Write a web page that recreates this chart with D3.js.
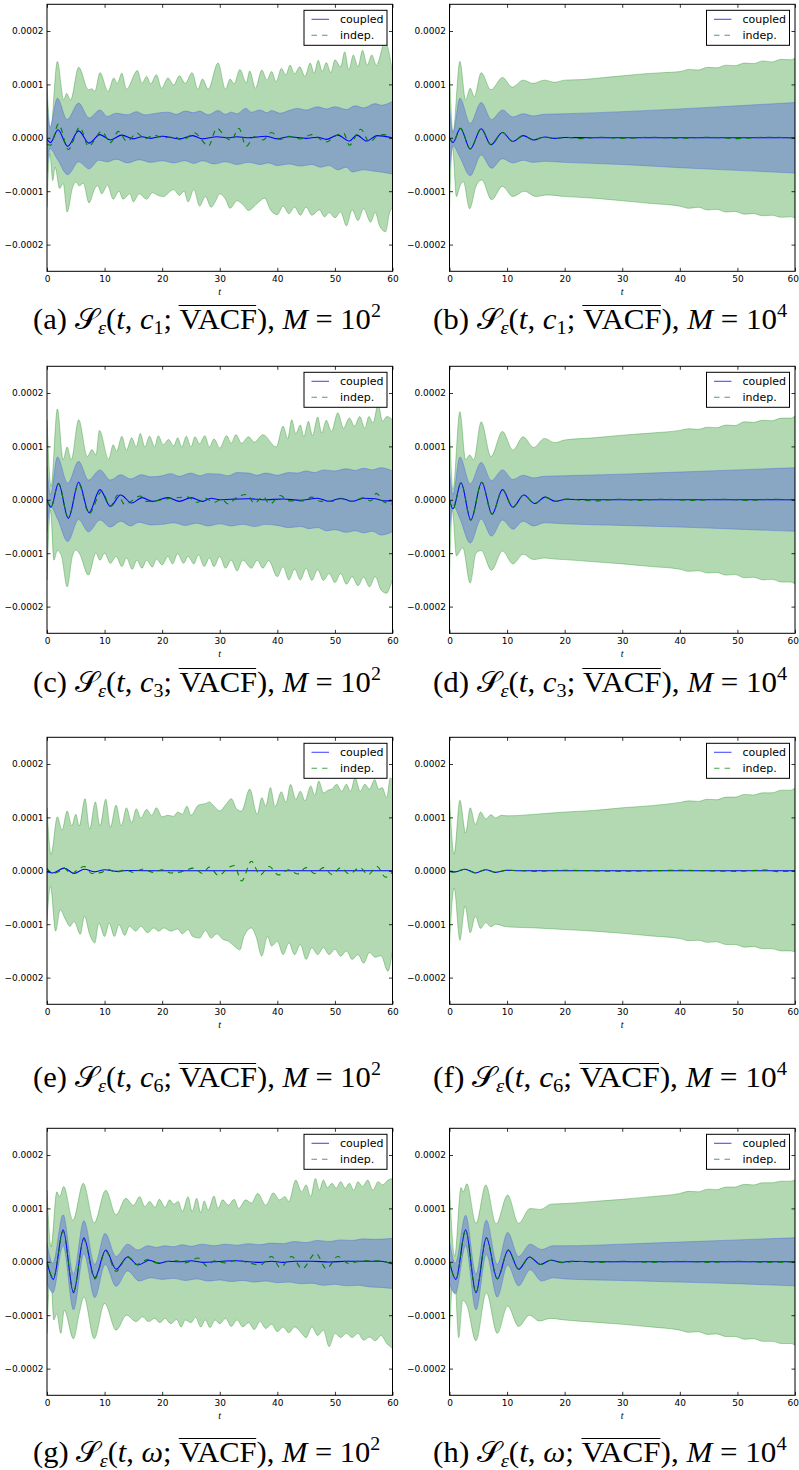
<!DOCTYPE html>
<html><head><meta charset="utf-8">
<script src="https://cdn.jsdelivr.net/npm/d3@7"></script>
<style>html,body{margin:0;padding:0;background:#fff;} svg{display:block;}</style>
</head><body>
<svg id="chart" width="799" height="1470"></svg>
<script>
// values are in units of 1e-5; each series is a list of [t, value] knots
const UNIT = 1e-5;
const tTicks = [0, 10, 20, 30, 40, 50, 60];
const yTicks = [-0.0002, -0.0001, 0, 0.0001, 0.0002];
const yTickLabels = ["\u22120.0002", "\u22120.0001", "0.0000", "0.0001", "0.0002"];
const seriesNames = ["coupled", "indep."];
const panelLetters = ["a", "b", "c", "d", "e", "f", "g", "h"];
const panelParams = ["c1", "c1", "c3", "c3", "c6", "c6", "\u03c9", "\u03c9"];
const panelExps = ["2", "4", "2", "4", "2", "4", "2", "4"];

// ---- (a) c1, M=10^2
const a_gUp = [[0,10],[0.6,1.5],[1.8,14.3],[2.9,7.1],[3.4,8.3],[4.1,7.1],[5.5,13.2],[7.2,9.0],[7.8,9.2],[8.3,8.7],[9.2,12.2],[10.6,8.7],[11.6,11.2],[12.2,10.2],[13,12.1],[13.8,9.1],[15.7,12.6],[16.5,10.2],[17.3,11.5],[18,10.1],[19,11.8],[19.9,9.3],[21,11.2],[22,9.9],[23,11.6],[24,10.2],[25.2,12.2],[26.2,9.1],[27,11.0],[28,9.1],[29.7,14.0],[31,9.1],[31.8,11.0],[32.5,10.1],[33.5,12.8],[34.6,10.3],[35.2,12.5],[36.2,9.3],[37.3,12.7],[38.2,10.8],[39,12.4],[39.8,10.5],[40.7,13.0],[41.5,11.8],[42.2,13.6],[43,12.0],[43.9,13.3],[44.8,11.5],[45.7,14.0],[46.4,12.1],[47.1,14.5],[47.8,12.4],[48.5,14.1],[49.3,12.2],[50,14.6],[51,13.3],[51.7,16.1],[52.4,12.7],[53.2,15.5],[54,13.3],[54.8,16.4],[55.6,13.6],[56.4,15.5],[57.2,13.6],[58.7,18.0],[60,12.4]];
const a_gLo = [[0,-13],[0.5,-3],[1.0,-8],[1.4,-5.5],[2.2,-9.5],[2.8,-8.5],[3.5,-13.9],[4.4,-9.5],[5,-8.3],[5.6,-9],[6.3,-8.5],[7.3,-12.2],[8.3,-9.5],[8.8,-9],[9.5,-10.5],[10.5,-8.9],[11.5,-11.5],[12.5,-10],[13.2,-11.5],[14.4,-10.5],[15,-12],[16,-10.5],[17.3,-11.5],[18.3,-10.3],[19.3,-10.8],[20.3,-11],[21.2,-10.2],[22,-9.7],[23,-10.8],[23.8,-10],[24.5,-12],[25.5,-9.7],[26.5,-12.8],[27.5,-11],[28.5,-13],[29.3,-11.8],[30,-10.5],[31,-11.5],[31.8,-13.2],[33,-11.8],[34,-12.5],[35,-13.6],[36.5,-12.3],[37.8,-11.3],[38.8,-13.5],[40,-14.4],[41,-12.8],[42,-14.2],[43,-13],[44,-14.5],[45,-13],[46,-14.5],[47.3,-13.5],[48.2,-14.8],[49,-14],[50,-15],[51,-13.9],[52,-16.5],[53,-13.5],[54,-15.5],[55,-13.3],[56.2,-15.8],[57,-14],[57.8,-16.6],[58.8,-17.6],[59.5,-14],[60,-13]];
const a_bUp = [[0,7],[0.5,2],[1.8,7.4],[3.5,3.4],[5.5,6.5],[7.3,3.7],[9.2,5.2],[10.5,4.0],[12,4.6],[14,4.3],[15.5,4.9],[17,4.3],[19,4.6],[21,4.8],[22.5,4.4],[24,5.0],[25.5,4.7],[26.5,5.0],[28,4.3],[29.7,5.1],[31,4.4],[32,4.8],[33,4.5],[34.5,5.5],[35.5,4.8],[37,5.2],[38.2,4.7],[39,5.1],[40.5,4.6],[42,5.1],[43.5,5.5],[45,5.2],[47,5.8],[48.5,5.4],[50,5.8],[52,5.3],[53.5,6.0],[55,5.6],[57,6.4],[58,6.1],[60,6.8]];
const a_bLo = [[0,-6.5],[0.5,-2],[1.8,-4.0],[3.6,-6.9],[5.5,-4.5],[7.3,-5.8],[9,-4.2],[10.5,-4.5],[12,-4.0],[14,-4.7],[16,-4.1],[18,-4.6],[20,-4.3],[22,-4.7],[24,-4.3],[25.5,-4.8],[27,-4.3],[29,-4.9],[31,-4.5],[33,-5.0],[35,-4.6],[37,-5.0],[38.5,-4.7],[40,-5.2],[42,-4.9],[44,-5.3],[46,-5.0],[47.5,-5.5],[49,-5.2],[50.5,-6.0],[52,-5.5],[53,-6.4],[55,-6.0],[56.5,-6.2],[58,-6.4],[60,-6.8]];
const a_coupled = [[0,-0.3],[0.6,-0.9],[1.9,1.5],[3.6,-1.6],[5.5,1.3],[7.3,-1.0],[9.2,0.6],[11,-0.4],[13,0.5],[15,-0.2],[16.5,0.2],[18,-0.1],[20,0.3],[23,-0.2],[25.3,0.4],[27,-0.2],[29.5,0.2],[31.5,0],[33,0.2],[35,0],[38,0.3],[40,-0.2],[42,0.2],[45,-0.1],[47,0.1],[48.5,-0.3],[50.5,0.5],[52.5,-0.6],[53.8,0.5],[55.5,-0.6],[57.3,0.4],[60,0]];
const a_indep = [[0,-1.2],[0.6,-1.4],[2.0,2.6],[3.7,-2.2],[5.7,2.0],[7.2,-1.6],[9.5,1.2],[11,-0.9],[12.4,1.2],[13.9,-0.7],[15.6,0.9],[17,-0.2],[18.5,0.5],[20.3,0],[22,0.2],[23.5,-0.4],[25.7,0.9],[27,-0.6],[28,-1.6],[29.5,1.8],[31,0.1],[32,-0.5],[33.3,1.8],[34.6,-1.6],[36,0.2],[37.5,-0.4],[39,1.0],[40.5,-0.3],[42,0.3],[44,-0.2],[46,0.6],[48.5,-0.8],[50,0.3],[51.5,0.9],[52.5,-1.4],[54.5,1.6],[56,-0.8],[57.3,0.3],[58.5,0.6],[60,-0.2]];

// ---- (b) c1, M=10^4
const b_gUp = [[0,13.3],[0.6,1],[1.8,14.3],[2.8,7.1],[3.6,9.3],[4.3,7.7],[5.5,12.2],[7.2,9.0],[9.2,11.3],[10.9,9.5],[12.8,10.8],[14.5,10.2],[16.5,10.8],[18.2,10.4],[20,10.8],[23,10.9],[26,11.2],[30,11.6],[34,12.0],[37,12.2],[40,12.4],[41.6,12.8],[43.2,12.7],[44.8,13.2],[46.4,13.1],[48,13.6],[49.6,13.5],[51.2,14.0],[52.8,13.9],[54.4,14.4],[56,14.2],[57.6,14.7],[59.2,14.6],[60,14.9]];
const b_gLo = [[0,-13.8],[0.5,-1.6],[1.2,-11],[1.8,-9.1],[2.4,-8.2],[3.5,-13.3],[4.6,-9.1],[5.6,-7.9],[7.3,-11.6],[9.2,-9.1],[11,-11],[13,-10],[15,-11],[17,-10.7],[20,-11],[25,-11.3],[30,-11.8],[35,-12.3],[40,-12.8],[41.6,-13.2],[43.2,-13.0],[44.8,-13.5],[46.4,-13.4],[48,-13.9],[49.6,-13.8],[51.2,-14.3],[52.8,-14.2],[54.4,-14.6],[56,-14.5],[57.6,-14.9],[59.2,-14.8],[60,-15]];
const b_bUp = [[0,5.9],[0.6,1.0],[1.8,7.4],[3.6,2.7],[5.5,6.6],[7.3,3.4],[9.2,5.2],[11,3.9],[12.8,4.5],[14.5,4.1],[16.5,4.4],[20,4.5],[30,4.9],[40,5.4],[50,6.0],[60,6.6]];
const b_bLo = [[0,-6.2],[0.6,-1.5],[1.8,-3.6],[3.6,-7.1],[5.5,-3.2],[7.3,-5.7],[9.2,-3.9],[11,-4.7],[12.8,-4.2],[14.5,-4.6],[16.5,-4.4],[20,-4.6],[30,-5.0],[40,-5.6],[50,-6.1],[60,-6.6]];
const b_coupled = [[0,0],[0.6,-0.9],[1.9,1.8],[3.6,-2.1],[5.5,1.7],[7.2,-1.3],[9.2,1.0],[11,-0.7],[12.8,0.4],[14.6,-0.4],[16.5,0.15],[18.3,-0.1],[20,0.05],[25,0],[60,0]];
const b_indep = [[0,0],[0.6,-0.9],[1.9,1.8],[3.6,-2.1],[5.5,1.7],[7.2,-1.3],[9.2,1.0],[11,-0.7],[12.8,0.4],[14.6,-0.4],[16.5,0.2],[18.3,-0.15],[20,0.1],[23,-0.15],[26,0.1],[30,-0.1],[35,0.1],[40,-0.1],[45,0.1],[50,-0.15],[55,0.1],[60,0]];

// ---- (c) c3, M=10^2
const c_gUp = [[0,15],[0.7,2.5],[1.8,17],[2.8,7.5],[3.5,9.9],[4.2,7.5],[5.5,15],[7,8.1],[7.8,9.4],[8.5,8.4],[9.1,13],[10.7,7.6],[11.5,10.3],[12.1,9.1],[13,11.9],[13.8,9.3],[14.7,11.6],[15.5,9.9],[16.2,12.4],[17,9.9],[17.8,11.9],[18.7,9.9],[19.3,12],[20.2,10.3],[21.1,11.3],[22,10.1],[22.7,11.6],[23.4,9.9],[24.2,11.9],[25,9.9],[25.7,11.8],[26.5,10.5],[27.4,12],[28.2,9.9],[29,11.4],[30,9.7],[31.2,12],[32,10.6],[32.8,12.2],[33.8,10.6],[35,11.8],[36,10.8],[37.5,12.2],[39.8,9.9],[41,13.8],[41.8,11.4],[42.5,15],[43.2,12.4],[44,14],[44.6,11.8],[45.4,14.7],[46.1,12],[47,15.5],[47.7,12.5],[48.5,14.9],[49.4,12.8],[50.5,16.3],[51.5,13.4],[52.5,15.3],[53.4,13.8],[54.3,15.6],[55.2,13.4],[55.9,15.6],[56.6,14.4],[57.5,17.8],[58.3,14.7],[59,15.6],[60,15]];
const c_gLo = [[0,-15],[0.6,-1.9],[1.2,-11.3],[1.8,-9.5],[2.5,-10.5],[3.5,-16.3],[4.4,-10.6],[5,-9.4],[5.6,-10],[7.2,-14.1],[8.5,-10],[9.2,-11.3],[10,-10],[11,-11.9],[12,-10.6],[13,-12.5],[13.8,-10.9],[14.8,-13],[15.6,-11.3],[16.5,-12.8],[17.3,-11.3],[18.3,-12.6],[19,-11.1],[20,-12.2],[21,-10.6],[21.8,-12],[22.7,-10.1],[23.7,-11.9],[24.5,-10.6],[25.5,-12],[26.3,-10.3],[27.3,-12.5],[28.2,-10.9],[29,-12.5],[30,-10.6],[31,-12.8],[32,-11.3],[33,-13.3],[34,-11.3],[35.5,-12.8],[36.5,-11.3],[37.5,-12.8],[38.5,-11.4],[40,-14.4],[41,-12.5],[42,-15],[43,-13],[44,-15],[45,-12.8],[46,-15.1],[47,-13.1],[48,-15.1],[49,-13.8],[50,-15.5],[51,-13.8],[52,-15.8],[53,-14.4],[54,-16.1],[55,-14.5],[56,-16.3],[57,-14.4],[58,-16.9],[59,-17.5],[59.5,-16.5],[60,-15]];
const c_bUp = [[0,6.2],[0.6,1.0],[1.8,8.0],[3.6,3.1],[5.5,7.2],[7.2,3.7],[9.2,5.6],[11,3.7],[12.8,4.7],[14.5,3.9],[16.4,4.7],[18,4.3],[20,4.5],[21.5,4.9],[23,4.4],[25,5.0],[26.5,4.5],[28,4.9],[30,4.8],[31.5,4.5],[33,5.1],[35,5.0],[36.5,4.6],[38,5.0],[40,4.6],[42,5.1],[43.5,5.0],[45,5.4],[46.5,5.1],[48,5.6],[50,5.4],[52,5.8],[53.5,5.5],[55,5.9],[56.5,5.6],[58,6.0],[60,5.4]];
const c_bLo = [[0,-6],[0.6,-1.2],[1.8,-3.5],[3.6,-7.8],[5.5,-3.7],[7.2,-6.0],[9.2,-3.8],[11,-5.1],[12.8,-4.0],[14.5,-4.9],[16,-4.2],[18,-4.7],[20,-4.6],[22,-4.3],[24,-4.8],[26,-4.4],[28,-4.9],[30,-4.5],[32,-4.9],[34,-4.6],[36,-5.0],[38,-4.6],[40,-4.8],[42,-5.2],[44,-5.0],[45.5,-5.4],[47,-5.2],[48.5,-5.8],[50,-5.6],[52,-6.1],[53.5,-5.8],[55,-6.2],[56.5,-5.9],[58,-6.6],[60,-6.0]];
const c_coupled = [[0,0],[0.7,-1.4],[2,3.1],[3.7,-3.5],[5.5,3.3],[7.3,-2.4],[9.2,1.9],[11,-1.2],[12.8,0.9],[14.7,-0.6],[16.5,0.4],[18.3,-0.3],[21,0.4],[23,-0.3],[25,0.4],[27,-0.3],[28.5,0.3],[30,0],[32,0.1],[35,0.2],[38,0],[41,0.15],[44,-0.1],[47,0.3],[49,-0.3],[51,0.3],[53,-0.3],[55,0.3],[57,0.2],[58.5,-0.2],[60,-0.2]];
const c_indep = [[0,0],[0.7,-1.3],[2,3.0],[3.7,-3.3],[5.5,3.0],[7.3,-2.6],[9.5,1.6],[11,-1.2],[12.3,0.9],[13.5,-0.9],[16.2,0.7],[17.3,-0.3],[19,-0.2],[21,0.2],[24.5,0.5],[26,-0.5],[27.5,0.3],[29,-0.5],[30.3,0.1],[31.5,-0.8],[33,0.5],[34.8,1.0],[36,-0.7],[37.5,0.6],[38.7,-0.8],[40.5,0.8],[42,-0.2],[44.5,-0.2],[46,0.5],[47.5,-0.3],[49.5,-0.3],[51,0.2],[53,-0.3],[55,0.4],[56.2,-0.2],[57.2,1.2],[58.5,-0.4],[60,-0.8]];

// ---- (d) c3, M=10^4
const d_gUp = [[0,14.6],[0.6,1.9],[1.8,16.5],[2.8,7.5],[3.5,8.4],[4.2,7.5],[5.5,14.6],[7.2,8.1],[9.2,12.8],[11,9.3],[12.8,11.8],[14.6,9.8],[16.5,11.5],[18.3,10.7],[20,11.2],[25,11.6],[30,12.1],[35,12.5],[40,13],[41.6,13.3],[43.2,13.2],[44.8,13.6],[46.4,13.5],[48,14.0],[49.6,13.9],[51.2,14.6],[52.8,14.5],[54.4,14.9],[56,14.8],[57.6,15.3],[59.2,15.3],[60,15.7]];
const d_gLo = [[0,-14.4],[0.5,-2],[1.2,-10.5],[2.3,-9],[3.6,-15.6],[4.6,-10],[5.5,-9.5],[7.3,-13.2],[9.2,-9.6],[11,-12],[12.8,-10.2],[14.6,-11.2],[16.5,-10.9],[18.3,-11.1],[20,-11.2],[25,-11.6],[30,-12],[35,-12.5],[40,-13],[41.6,-13.4],[43.2,-13.3],[44.8,-13.7],[46.4,-13.6],[48,-14.1],[49.6,-14.0],[51.2,-14.6],[52.8,-14.5],[54.4,-15.0],[56,-14.9],[57.6,-15.4],[59.2,-15.4],[60,-15.8]];
const d_bUp = [[0,5.5],[0.6,1.0],[1.8,8.0],[3.6,3.0],[5.5,7.0],[7.3,3.6],[9.2,5.6],[11,3.8],[12.8,4.6],[14.6,4.1],[16.5,4.4],[20,4.5],[30,4.8],[40,5.2],[50,5.6],[60,6.0]];
const d_bLo = [[0,-5.8],[0.6,-1],[1.8,-3.5],[3.6,-8.1],[5.5,-3.6],[7.3,-6.8],[9.2,-3.8],[11,-5.5],[12.8,-4.0],[14.6,-4.9],[16.5,-4.3],[20,-4.5],[30,-4.8],[40,-5.1],[50,-5.5],[60,-5.9]];
const d_coupled = [[0,0],[0.6,-1.7],[2,3.2],[3.7,-3.8],[5.6,3.3],[7.4,-2.7],[9.2,1.9],[11,-1.4],[12.9,0.9],[14.8,-0.7],[16.6,0.5],[18.4,-0.3],[20.3,0.1],[25,0],[60,0]];
const d_indep = [[0,0],[0.6,-1.7],[2,3.2],[3.7,-3.8],[5.6,3.3],[7.4,-2.7],[9.2,1.9],[11,-1.4],[12.9,0.9],[14.8,-0.7],[16.6,0.5],[18.4,-0.3],[20.3,0.15],[23,-0.1],[26,-0.2],[29,0.1],[33,-0.1],[37,0.1],[42,-0.1],[47,0.1],[52,-0.1],[56,0.1],[60,0]];

// ---- (e) c6, M=10^2
const e_gUp = [[0,11.8],[0.7,3.1],[1.8,10.1],[2.6,7.6],[3.5,11.2],[4.3,8.4],[5,10.6],[5.6,8.4],[6.6,13.5],[7.4,7.8],[8.4,12.9],[9.2,8.4],[10.2,13.4],[11,8.1],[12,12.3],[12.9,8.4],[13.8,11.8],[14.7,9],[15.5,11.6],[16.3,9.9],[17.3,11.5],[18.2,10.4],[19,11.8],[20,10.1],[21,10.4],[22,10.2],[22.7,11],[23.5,10.6],[24.3,12.1],[25,10.4],[26.3,12.3],[27.5,12.6],[28.2,12.9],[29,12.1],[30,11.2],[31,12.3],[32,13.5],[33,11.5],[33.8,11.2],[35.2,15.3],[36.5,10.6],[37.3,13.7],[38,12.1],[38.8,15.6],[39.6,12],[40.7,14.8],[41.5,12.8],[42.3,16.2],[43.2,13.4],[44,14.9],[44.8,13.1],[45.8,15.9],[46.5,14.1],[47.2,16.8],[48,14.6],[48.8,15.1],[49.5,15.3],[50.3,16.2],[51.2,14.9],[52,16.2],[52.7,14.9],[53.5,17.4],[54.4,14.9],[55.2,16.2],[56,15.3],[56.9,17.1],[57.6,15.3],[58.2,15.6],[59,13.7],[59.6,17.4],[60,17.1]];
const e_gLo = [[0,-9.4],[0.6,-2.9],[1.5,-11.3],[2.3,-7.3],[3.2,-9.1],[4,-10.4],[4.7,-9.5],[5.8,-11.9],[6.5,-8.5],[7.4,-11.9],[8.3,-13.5],[9,-9.8],[10,-12.3],[10.8,-9.8],[11.7,-12.3],[12.5,-10.1],[13.5,-12.1],[14.3,-10.4],[15.4,-11.3],[16.3,-10.4],[17.5,-11.6],[18.5,-10.7],[19.4,-11.3],[20.3,-10.7],[21.5,-11.3],[22.7,-10.9],[23.5,-11.8],[24.5,-11],[25.3,-12.3],[26.5,-12.6],[27.5,-11.2],[28.5,-12.6],[29.5,-11.8],[30.5,-12.8],[31.5,-13.2],[32.5,-14.1],[33.5,-14.8],[34.2,-12.3],[35.5,-10.7],[36.3,-12.3],[37.3,-16],[38.3,-12.3],[39,-14.1],[40,-13.2],[41,-15.7],[42,-13.5],[43,-15.7],[44,-13.8],[45,-16.6],[46,-14.4],[47,-15.7],[48,-14.4],[49,-15.7],[50,-14.7],[51,-16],[52,-15],[53,-16.6],[54,-15.7],[55,-17.3],[56,-15.3],[57,-16.2],[58,-15.9],[59.2,-18.8],[60,-15]];
const e_bUp = null;
const e_bLo = null;
const e_coupled = [[0,-0.2],[1,-0.4],[3,0.5],[4.7,-0.5],[6.5,0.3],[8.3,-0.2],[10,0.2],[12,-0.1],[14,0.05],[20,0],[60,0]];
const e_indep = [[0,0.5],[0.8,-0.5],[2,-0.2],[3,0.5],[4.2,-0.6],[5.2,0.1],[6.5,0.8],[7.8,-0.5],[9.5,-0.3],[10.5,0.3],[12,-0.3],[13.5,0.2],[15,-0.3],[16.5,0.3],[18.5,-0.3],[20,0.2],[21.5,-0.4],[23.3,-0.2],[25.5,0.5],[27,-0.5],[28.2,0.7],[29.8,-0.9],[31.5,0.6],[32.5,1.0],[33.8,-1.9],[35.5,1.8],[37,-0.8],[38.6,0.8],[40.2,-0.8],[42,0.2],[43.5,-0.6],[45,0.6],[46.5,-0.5],[48,0.6],[49.5,-0.7],[51,0.6],[52.5,-0.6],[54.3,0.6],[55.8,-0.7],[57.3,0.8],[58.8,-1.2],[60,-0.2]];

// ---- (f) c6, M=10^4
const f_gUp = [[0,14],[0.8,3.1],[1.8,13.2],[2.8,7.1],[3.6,11.8],[4.5,8.7],[5.4,11],[6.3,9.7],[7.2,10.5],[8,9.9],[9,10.4],[10,10.3],[15,10.6],[20,11],[25,11.3],[30,11.8],[35,12.2],[40,12.8],[41.6,13.1],[43.2,13.0],[44.8,13.4],[46.4,13.3],[48,13.8],[49.6,13.8],[51.2,14.3],[52.8,14.2],[54.4,14.6],[56,14.6],[57.6,15.1],[59.2,15.1],[60,15.5]];
const f_gLo = [[0,-14],[0.8,-3.2],[1.8,-13],[2.7,-6.6],[3.6,-11.6],[4.5,-8.5],[5.4,-10.8],[6.3,-9.7],[7.2,-10.5],[8,-10],[10,-10.5],[15,-10.7],[20,-11],[25,-11.3],[30,-11.7],[35,-12.2],[40,-12.7],[41.6,-13.1],[43.2,-13.0],[44.8,-13.4],[46.4,-13.3],[48,-13.8],[49.6,-13.8],[51.2,-14.3],[52.8,-14.2],[54.4,-14.6],[56,-14.6],[57.6,-15.0],[59.2,-15.0],[60,-15.2]];
const f_bUp = null;
const f_bLo = null;
const f_coupled = [[0,-0.1],[1,-0.2],[2.7,0.3],[4.5,-0.4],[6.3,0.2],[8,-0.3],[10,0.1],[12,0],[60,0]];
const f_indep = [[0,-0.1],[1,-0.2],[2.7,0.3],[4.5,-0.4],[6.3,0.2],[8,-0.3],[10,0.1],[15,-0.1],[20,0.1],[30,-0.1],[40,0.1],[50,-0.1],[55,0.15],[57,-0.15],[60,0]];

// ---- (g) omega, M=10^2
const g_gUp = [[0,13.4],[0.7,2.8],[1.7,13.1],[2.2,12.2],[2.9,14.1],[4.5,7.8],[6.3,14.7],[8.2,7.3],[10.2,13.4],[12,8.8],[13.7,11.9],[15,10.6],[16.1,12.2],[17,10.3],[17.8,11.3],[18.8,10.2],[19.5,11.7],[20.5,10.2],[21.3,11.6],[22,10.8],[22.8,11.3],[23.5,9.4],[24.5,12.2],[25.2,9.4],[26,11.9],[26.7,9.2],[27.3,11.4],[28,9.7],[29,12.3],[29.7,10],[30.5,11.6],[31.5,10.6],[32.5,11.7],[33.3,10],[34.5,11.6],[35.5,11],[36.6,12.8],[38,10.6],[39.3,12.9],[40.4,11.6],[41.3,12.2],[42,11.3],[43.2,15.3],[44.2,13.1],[45,14.4],[45.8,12.2],[46.6,15.6],[47.3,13.4],[48,15.3],[48.7,13.9],[49.5,14.7],[50.2,13.8],[51,15],[51.8,13.8],[52.5,14.7],[53.3,13.4],[54,15],[54.8,14.1],[55.7,15.3],[56.6,13.4],[57.5,15],[58.3,14.4],[59.2,15.3],[60,15.6]];
const g_gLo = [[0,-13.4],[0.6,-2.2],[1.2,-10.9],[1.7,-9.7],[2.4,-13.4],[3,-9.1],[4.6,-14.4],[5.6,-9.7],[6.4,-6.6],[8.2,-14.4],[10,-7.8],[12,-12.8],[13.8,-10],[15.5,-11.2],[16.6,-10.3],[17.6,-11.2],[18.7,-10.6],[19.6,-11.4],[20.5,-10.6],[21.5,-11.6],[22.5,-10.8],[23.3,-12.2],[24,-10.9],[25,-11.4],[25.8,-10.4],[26.7,-12.2],[27.5,-10.9],[28.3,-12.3],[29.2,-10.9],[30,-11.6],[31,-10.6],[32,-12.1],[33,-10.9],[34,-12.2],[35,-11.4],[36,-12.7],[37,-11.2],[38,-12.5],[39,-11.7],[40,-13.1],[41,-12.2],[42,-13.3],[43,-12.2],[44,-13.1],[45,-14.2],[46,-12.2],[47,-13.8],[48,-12.8],[49,-15.9],[50,-13.4],[51,-14.2],[52,-13.4],[53,-14.2],[54,-13.4],[55,-14.7],[56,-14.1],[57,-14.8],[58,-13.8],[59,-15.3],[60,-16.2]];
const g_bUp = [[0,3.5],[1,-0.3],[2.8,8.8],[4.6,-2.3],[6.4,7.7],[8.3,-0.5],[10.1,5.3],[12,1.0],[14,3.3],[15.8,2.2],[17.5,3.0],[19,2.7],[20.5,3.0],[22,2.8],[23.5,3.2],[25,2.9],[27,3.3],[29,3.0],[31,3.3],[33,3.1],[35,3.4],[37,3.2],[39,3.5],[41,3.4],[43,3.8],[45,3.6],[47,4.0],[49,3.8],[51,4.1],[53,4.0],[55,4.3],[57,4.2],[60,4.4]];
const g_bLo = [[0,-3.8],[1,-5.8],[2.8,3.0],[4.6,-9.0],[6.4,1.5],[8.3,-6.7],[10.1,-0.5],[12,-4.6],[14,-1.7],[16,-3.6],[18,-3.0],[20,-3.3],[22,-3.1],[24,-3.5],[26,-3.2],[28,-3.6],[30,-3.4],[32,-3.7],[34,-3.5],[36,-3.8],[38,-3.6],[40,-3.9],[42,-3.8],[44,-4.1],[46,-4.0],[48,-4.4],[50,-4.2],[52,-4.5],[54,-4.4],[56,-4.7],[58,-4.8],[60,-5.0]];
const g_coupled = [[0,0],[1.1,-3.3],[2.8,6.0],[4.6,-5.8],[6.4,4.5],[8.3,-3.0],[10.2,2.2],[12,-1.4],[14,0.9],[15.8,-0.6],[17.8,0.3],[19.5,-0.3],[21,0.1],[23,0],[25,0.2],[27,-0.1],[29,0],[31,0.15],[33,0.2],[35,0],[37,-0.1],[39,0.1],[41,-0.1],[43,0.1],[46,0.1],[49,-0.05],[52,0.1],[55,0.1],[58,0.1],[60,-0.4]];
const g_indep = [[0,0],[1.1,-3.0],[2.8,5.7],[4.6,-5.5],[6.4,4.2],[8.3,-3.2],[10.2,2.0],[12,-1.8],[14,1.0],[15.5,-0.5],[17.5,0.4],[19,-0.2],[20.5,0],[22.5,0.2],[24,-0.2],[26.3,0.7],[27.8,-0.8],[29,0.2],[31,-0.2],[33,0.3],[35,-0.2],[37,-0.6],[39,1.0],[40.5,-1.1],[42.5,1.0],[44.3,-1.3],[46.7,1.6],[48.5,-1.3],[50.5,1.0],[52.3,-0.3],[55,0.2],[57.5,0.2],[60,-0.4]];

// ---- (h) omega, M=10^4
const h_gUp = [[0,14.4],[0.9,1],[2,13.9],[2.4,13.1],[3,14.6],[4.6,7.2],[6.3,14.4],[8.1,7.1],[10.1,12.5],[12,7.2],[14,10],[15.8,9.8],[17.6,10.8],[20,10.9],[25,11.3],[30,11.7],[35,12.2],[40,12.8],[41.6,13.2],[43.2,13.1],[44.8,13.6],[46.4,13.5],[48,14.0],[49.6,14.0],[51.2,14.5],[52.8,14.4],[54.4,14.8],[56,14.8],[57.6,15.1],[59.2,15.1],[60,15.3]];
const h_gLo = [[0,-13.8],[0.8,-1],[1.6,-14.2],[2.3,-7.2],[3,-8.1],[4.6,-14.8],[6.4,-5.8],[8.3,-13.4],[10.1,-8.3],[12,-12.1],[13.9,-10],[15.6,-11.1],[17.5,-10.6],[20,-10.9],[25,-11.3],[30,-11.7],[35,-12.2],[40,-12.8],[41.6,-13.2],[43.2,-13.1],[44.8,-13.6],[46.4,-13.5],[48,-14.0],[49.6,-14.0],[51.2,-14.5],[52.8,-14.4],[54.4,-14.9],[56,-14.9],[57.6,-15.3],[59.2,-15.3],[60,-15.6]];
const h_bUp = [[0,4.0],[1,-0.3],[2.8,8.7],[4.6,-2.3],[6.4,7.8],[8.3,-0.5],[10.1,5.5],[12,1.0],[14,3.3],[16,2.3],[18,3.0],[20,3.0],[30,3.3],[40,3.7],[50,4.1],[60,4.5]];
const h_bLo = [[0,-4.0],[1,-6.0],[2.8,3.0],[4.6,-9.0],[6.4,1.4],[8.3,-6.6],[10.1,-0.6],[12,-4.5],[14,-1.5],[16,-3.6],[18,-3.0],[20,-3.2],[30,-3.5],[40,-3.8],[50,-4.1],[60,-4.5]];
const h_coupled = [[0,0],[1.1,-3.3],[2.8,6.0],[4.6,-5.8],[6.4,4.5],[8.3,-3.2],[10.2,2.2],[12,-1.4],[13.9,0.9],[15.8,-0.5],[17.6,0.3],[19.5,-0.1],[21,0.1],[25,0],[60,0]];
const h_indep = [[0,0],[1.1,-3.3],[2.8,6.0],[4.6,-5.8],[6.4,4.5],[8.3,-3.2],[10.2,2.2],[12,-1.4],[13.9,0.9],[15.8,-0.5],[17.6,0.3],[19.5,-0.15],[22,0.1],[26,-0.1],[30,0.1],[35,-0.1],[40,0.1],[45,-0.1],[50,0.1],[55,-0.1],[60,0]];

// table built from the arrays above
const panels = [
  [a_gUp, a_gLo, a_bUp, a_bLo, a_coupled, a_indep],
  [b_gUp, b_gLo, b_bUp, b_bLo, b_coupled, b_indep],
  [c_gUp, c_gLo, c_bUp, c_bLo, c_coupled, c_indep],
  [d_gUp, d_gLo, d_bUp, d_bLo, d_coupled, d_indep],
  [e_gUp, e_gLo, e_bUp, e_bLo, e_coupled, e_indep],
  [f_gUp, f_gLo, f_bUp, f_bLo, f_coupled, f_indep],
  [g_gUp, g_gLo, g_bUp, g_bLo, g_coupled, g_indep],
  [h_gUp, h_gLo, h_bUp, h_bLo, h_coupled, h_indep]
].map((s, i) => ({letter: panelLetters[i], param: panelParams[i], exp: panelExps[i],
  gUp: s[0], gLo: s[1], bUp: s[2], bLo: s[3], coupled: s[4], indep: s[5]}));

// ---- layout
const svg = d3.select("#chart");
const colLeft = [47, 449.5], plotW = 345.5;
const rowTop = [4.3, 366.3, 737.3, 1128.3], plotH = 267;
const capRange = [[33, 380], [433, 787]];
const capBase = [329, 692, 1087, 1462];
const GREEN_FILL = "rgba(0,128,0,0.3)";
const BLUE_FILL = "#89a7c2";
const TICK = 3.5;
const PAGE_W = 799;

panels.forEach((p, i) => {
  const col = i % 2, row = Math.floor(i / 2);
  const x0 = colLeft[col], y0 = rowTop[row];
  const x = d3.scaleLinear().domain([0, 60]).range([x0, x0 + plotW]);
  const y = d3.scaleLinear().domain([-0.00025, 0.00025]).range([y0 + plotH, y0]);
  const g = svg.append("g");
  const clipId = "clip" + i;
  g.append("clipPath").attr("id", clipId).append("rect")
    .attr("x", x0).attr("y", y0).attr("width", plotW).attr("height", plotH);
  const dg = g.append("g").attr("clip-path", `url(#${clipId})`);
  const line = d3.line().x(d => x(d[0])).y(d => y(d[1] * UNIT)).curve(d3.curveMonotoneX);
  const band = (up, lo) => line(up) + "L" + line(lo.slice().reverse()).slice(1) + "Z";

  dg.append("path").attr("d", band(p.gUp, p.gLo))
    .attr("fill", GREEN_FILL).attr("stroke", "rgba(0,128,0,0.3)").attr("stroke-width", 1);
  if (p.bUp) {
    dg.append("path").attr("d", band(p.bUp, p.bLo))
      .attr("fill", BLUE_FILL).attr("stroke", "rgba(60,90,230,0.4)").attr("stroke-width", 0.9);
  }
  dg.append("path").attr("d", line(p.coupled)).attr("fill", "none")
    .attr("stroke", "#0000ff").attr("stroke-width", 1.1);
  dg.append("path").attr("d", line(p.indep)).attr("fill", "none")
    .attr("stroke", "#008000").attr("stroke-width", 1.1).attr("stroke-dasharray", "5.5,5");

  // axes (ticks inward on all four sides)
  const styleAxis = a => {
    a.select(".domain").remove();
    a.selectAll(".tick line").attr("stroke", "#000").attr("stroke-width", 0.8);
    a.selectAll("text").style("font-family", "'DejaVu Sans', sans-serif").style("font-size", "9px").attr("fill", "#000");
  };
  const bottomAxis = g.append("g").attr("transform", `translate(0,${y0 + plotH})`)
    .call(d3.axisBottom(x).tickValues(tTicks).tickSizeInner(-TICK).tickSizeOuter(0).tickPadding(4.5).tickFormat(d3.format("d")))
    .call(styleAxis);
  // keep the last tick label inside the page when it would run past the right edge
  bottomAxis.selectAll(".tick").each(function(d) {
    if (x(d) + 6 > PAGE_W) d3.select(this).select("text").attr("text-anchor", "end").attr("x", PAGE_W - 0.5 - x(d));
  });
  g.append("g").attr("transform", `translate(0,${y0})`)
    .call(d3.axisTop(x).tickValues(tTicks).tickSizeInner(-TICK).tickSizeOuter(0).tickFormat(""))
    .call(styleAxis);
  g.append("g").attr("transform", `translate(${x0},0)`)
    .call(d3.axisLeft(y).tickValues(yTicks).tickSizeInner(-TICK).tickSizeOuter(0).tickPadding(3.5)
      .tickFormat((d, k) => yTickLabels[k]))
    .call(styleAxis);
  g.append("g").attr("transform", `translate(${x0 + plotW},0)`)
    .call(d3.axisRight(y).tickValues(yTicks).tickSizeInner(-TICK).tickSizeOuter(0).tickFormat(""))
    .call(styleAxis);
  g.append("rect").attr("x", x0).attr("y", y0).attr("width", plotW).attr("height", plotH)
    .attr("fill", "none").attr("stroke", "#000").attr("stroke-width", 1);

  g.append("text").attr("x", x0 + plotW / 2).attr("y", y0 + plotH + 23.5)
    .attr("text-anchor", "middle").style("font-family", "'Liberation Serif', serif")
    .style("font-style", "italic").style("font-size", "10px").text("t");

  // legend
  const lw = 83, lh = 35;
  const lx = x0 + plotW - 5.5 - lw, ly = y0 + 6;
  const lg = g.append("g");
  lg.append("rect").attr("x", lx).attr("y", ly).attr("width", lw).attr("height", lh)
    .attr("fill", "#fff").attr("stroke", "#000").attr("stroke-width", 1);
  seriesNames.forEach((name, k) => {
    const yy = ly + 9 + k * 16;
    lg.append("line").attr("x1", lx + 7.5).attr("x2", lx + 25).attr("y1", yy).attr("y2", yy)
      .attr("stroke", k === 0 ? "#0000ff" : "#008000").attr("stroke-width", 1.1)
      .attr("stroke-dasharray", k === 0 ? null : "5.5,5").attr("opacity", 0.7);
    lg.append("text").attr("x", lx + 36).attr("y", yy + 4)
      .style("font-family", "'DejaVu Sans', sans-serif").style("font-size", "11px").text(name);
  });

  drawCaption(p.letter, p.param, p.exp, capRange[col], capBase[row]);
});

function drawCaption(letter, param, exp, xr, base) {
  const g = svg.append("g");
  const txt = g.append("text").attr("x", 0).attr("y", 0)
    .style("font-family", "'Liberation Serif', 'DejaVu Serif', serif")
    .style("font-size", "29px").style("white-space", "pre").attr("fill", "#000");
  let off = 0;
  function add(s, o = {}) {
    const target = o.dy || 0;
    const ts = txt.append("tspan").text(s);
    if (target - off !== 0) ts.attr("dy", target - off);
    off = target;
    if (o.size) ts.style("font-size", o.size + "px");
    if (o.italic) ts.style("font-style", "italic");
    return ts;
  }
  add("(" + letter + ") ");
  add("\u{1D4AE}");
  add("\u03b5", {size: 19, dy: 5, italic: true});
  add("(");
  add("t", {italic: true});
  add(", ");
  if (param.length > 1) {
    add(param[0], {italic: true});
    add(param.slice(1), {size: 19, dy: 5});
  } else {
    add(param, {italic: true});
  }
  add("; ");
  const v = add("VACF");
  add("), ");
  add("M", {italic: true});
  add(" = 10");
  add(exp, {size: 19, dy: -12});
  const n = v.node();
  const xs = n.getStartPositionOfChar(0).x, xe = n.getEndPositionOfChar(3).x;
  g.append("line").attr("x1", xs).attr("x2", xe).attr("y1", -23.5).attr("y2", -23.5)
    .attr("stroke", "#000").attr("stroke-width", 1.2);
  const bb = g.node().getBBox();
  const sx = (xr[1] - xr[0]) / bb.width;
  g.attr("transform", `translate(${xr[0] - bb.x * sx},${base}) scale(${sx},1)`);
}
</script>
</body></html>
